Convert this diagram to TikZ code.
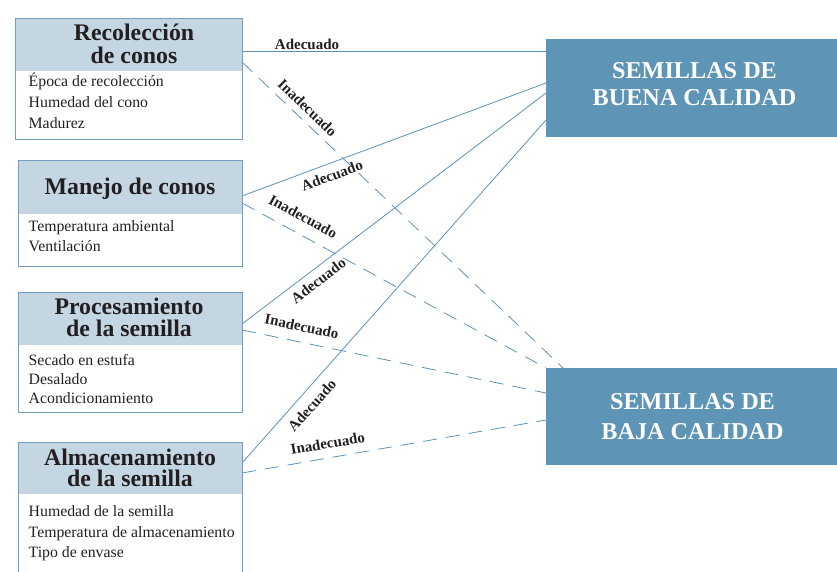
\documentclass[tikz,border=0pt]{standalone}
\usepackage{fontspec}
\setmainfont{Liberation Serif}
\definecolor{linecol}{RGB}{92,146,186}
\definecolor{boxline}{RGB}{110,158,196}
\definecolor{hdrfill}{RGB}{197,214,227}
\definecolor{resfill}{RGB}{94,149,183}
\definecolor{inkcol}{RGB}{35,31,32}
\begin{document}
\begin{tikzpicture}[x=1pt,y=1pt,
  hdr/.style={fill=hdrfill, draw=none, inner sep=0pt, outer sep=0pt, anchor=north west},
  lbox/.style={draw=boxline, line width=0.9pt, inner sep=0pt, outer sep=0pt, anchor=north west},
  ttl/.style={font=\fontsize{23.8}{23.8}\selectfont\bfseries, text=inkcol, anchor=base, inner sep=0pt},
  item/.style={font=\fontsize{15.8}{15.8}\selectfont, text=inkcol, anchor=base west, inner sep=0pt},
  res/.style={fill=resfill, draw=none, inner sep=0pt, outer sep=0pt, anchor=north west, minimum width=300pt},
  restxt/.style={font=\fontsize{24.2}{24.2}\selectfont\bfseries, text=white, anchor=base, inner sep=0pt},
  conn/.style={draw=linecol, line width=0.8pt},
  bad/.style={conn, dash pattern=on 14pt off 9pt},
  lbl/.style={font=\fontsize{15}{15}\selectfont\bfseries, text=inkcol, inner sep=0pt, sloped}]
\useasboundingbox (0,0) rectangle (837,571);

% header fills
\node[hdr, minimum width=227pt, minimum height=53pt] (h1) at (15,553) {};
\node[hdr, minimum width=224pt, minimum height=54pt] (h2) at (18,411) {};
\node[hdr, minimum width=224pt, minimum height=53pt] (h3) at (18,279) {};
\node[hdr, minimum width=224pt, minimum height=52pt] (h4) at (18,129) {};

% result boxes
\node[res, minimum height=98pt] (buena) at (546,532) {};
\node[res, minimum height=97pt] (baja) at (546,203) {};

% connectors
\draw[conn] ([yshift=-33pt]h1.north east) -- node[lbl, pos=.214, above=0.5pt] (l1a) {Adecuado} ([yshift=-33pt]h1.north east -| buena.west);
\draw[bad] ([yshift=-44pt]h1.north east) -- node[lbl, pos=.178, above=6.5pt] (l1i) {Inadecuado} ([xshift=17pt]baja.north west);
\draw[conn] ([yshift=-36pt]h2.north east) -- node[lbl, pos=.282, below=6.5pt] (l2a) {Adecuado} ([yshift=-44pt]buena.north west);
\draw[bad] ([yshift=-43pt]h2.north east) -- node[lbl, pos=.174, above=11.6pt] (l2i) {Inadecuado} (baja.north west);
\draw[conn] ([yshift=-32pt]h3.north east) -- node[lbl, pos=.228, below=6pt] (l3a) {Adecuado} ([yshift=-54pt]buena.north west);
\draw[bad] ([yshift=-38pt]h3.north east) -- node[lbl, pos=.186, above=10pt] (l3i) {Inadecuado} ([yshift=-25pt]baja.north west);
\draw[conn] ([yshift=-21pt]h4.north east) -- node[lbl, pos=.195, below=8.5pt] (l4a) {Adecuado} ([yshift=-81pt]buena.north west);
\draw[bad] ([yshift=-31pt]h4.north east) -- node[lbl, pos=.29, above=8.7pt] (l4i) {Inadecuado} ([yshift=-52pt]baja.north west);

% box outlines
\node[lbox, minimum width=227pt, minimum height=121pt] (box1) at (15,553) {};
\node[lbox, minimum width=224pt, minimum height=106pt] (box2) at (18,411) {};
\node[lbox, minimum width=224pt, minimum height=120pt] (box3) at (18,279) {};
\node[lbox, minimum width=224pt, minimum height=140pt] (box4) at (18,129) {};

% titles
\node[ttl] (t1a) at (134,530.3) {Recolección};
\node[ttl] (t1b) at (134,507.7) {de conos};
\node[ttl] (t2a) at (130,376) {Manejo de conos};
\node[ttl] (t3a) at (129,256.7) {Procesamiento};
\node[ttl] (t3b) at (129,234.3) {de la semilla};
\node[ttl] (t4a) at (130,106) {Almacenamiento};
\node[ttl] (t4b) at (130,84.3) {de la semilla};

% items
\node[item] (i11) at (28.5,484) {Época de recolección};
\node[item] (i12) at (28.5,463) {Humedad del cono};
\node[item] (i13) at (28.5,442) {Madurez};
\node[item] (i21) at (28.5,339.3) {Temperatura ambiental};
\node[item] (i22) at (28.5,319.3) {Ventilación};
\node[item] (i31) at (28.5,206) {Secado en estufa};
\node[item] (i32) at (28.5,187) {Desalado};
\node[item] (i33) at (28.5,167.7) {Acondicionamiento};
\node[item] (i41) at (28.5,54.3) {Humedad de la semilla};
\node[item] (i42) at (28.5,33.7) {Temperatura de almacenamiento};
\node[item] (i43) at (28.5,13.7) {Tipo de envase};

% result texts
\node[restxt] (r1a) at (694.5,492.7) {SEMILLAS DE};
\node[restxt] (r1b) at (694.5,465) {BUENA CALIDAD};
\node[restxt] (r2a) at (692.5,161.7) {SEMILLAS DE};
\node[restxt] (r2b) at (692.5,131.7) {BAJA CALIDAD};
\end{tikzpicture}
\end{document}
